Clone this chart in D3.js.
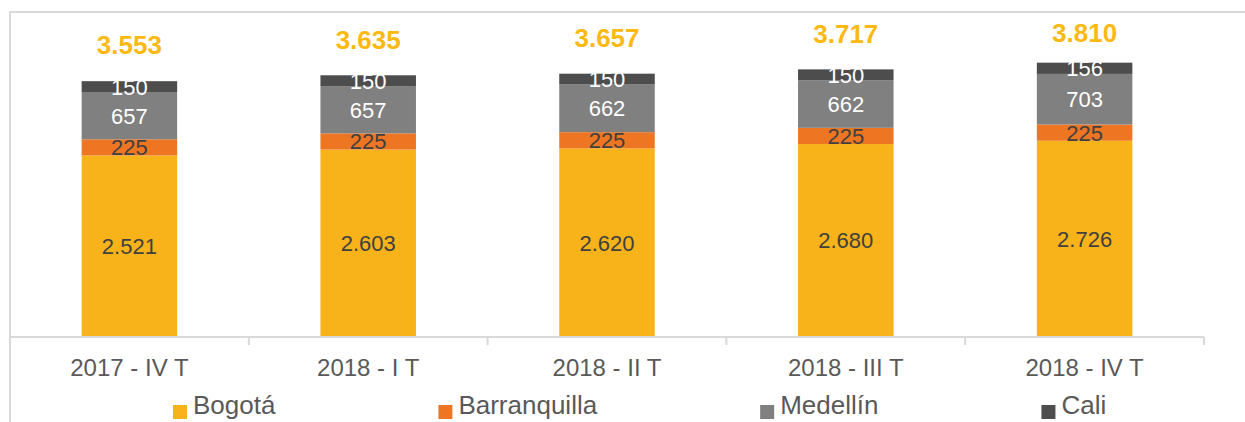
<!DOCTYPE html>
<html>
<head>
<meta charset="utf-8">
<script src="https://cdn.jsdelivr.net/npm/d3@7"></script>
<style>
  body { margin: 0; background: #fff; }
  svg { display: block; font-family: "Liberation Sans", Arial, sans-serif; }
</style>
</head>
<body>
<svg id="chart" width="1245" height="422"></svg>
<script>
const periods = ['2017 - IV T', '2018 - I T', '2018 - II T', '2018 - III T', '2018 - IV T'];
const cities = ['Bogotá', 'Barranquilla', 'Medellín', 'Cali'];
const bogota = [2521, 2603, 2620, 2680, 2726];
const barranquilla = [225, 225, 225, 225, 225];
const medellin = [657, 657, 662, 662, 703];
const cali = [150, 150, 150, 150, 156];
const totals = [3553, 3635, 3657, 3717, 3810];

const colors = ['#f8b31a', '#ee7623', '#808080', '#4d4d4d'];
const labelColors = ['#404040', '#404040', '#ffffff', '#ffffff'];

const chartSize = { width: 1245, height: 422 };
const plot = { left: 10, right: 1204, top: 13, bottom: 337 };

const rows = periods.map((p, i) => ({
  period: p,
  'Bogotá': bogota[i],
  'Barranquilla': barranquilla[i],
  'Medellín': medellin[i],
  'Cali': cali[i],
  total: totals[i]
}));

const fmt = d => d3.format(',')(d).replace(/,/g, '.');

const svg = d3.select('#chart')
  .attr('width', chartSize.width)
  .attr('height', chartSize.height);

// chart frame (left and top edges visible)
svg.append('path')
  .attr('d', `M10,${chartSize.height} V12 H${chartSize.width}`)
  .attr('fill', 'none')
  .attr('stroke', '#d9d9d9')
  .attr('stroke-width', 2);

const x = d3.scaleBand()
  .domain(periods)
  .range([plot.left, plot.right])
  .paddingInner(0.6)
  .paddingOuter(0.3);

const y = d3.scaleLinear()
  .domain([0, 4500])
  .range([plot.bottom, plot.top]);

const stack = d3.stack().keys(cities);
const series = stack(rows);

const layers = svg.selectAll('g.layer')
  .data(series)
  .join('g')
  .attr('class', 'layer')
  .attr('fill', (d, i) => colors[i]);

layers.selectAll('rect')
  .data(d => d)
  .join('rect')
  .attr('x', d => x(d.data.period))
  .attr('y', d => y(d[1]))
  .attr('width', x.bandwidth())
  .attr('height', d => y(d[0]) - y(d[1]));

// segment labels
series.forEach((s, i) => {
  svg.append('g')
    .selectAll('text')
    .data(s)
    .join('text')
    .attr('x', d => x(d.data.period) + x.bandwidth() / 2)
    .attr('y', d => (y(d[0]) + y(d[1])) / 2)
    .attr('dy', '0.36em')
    .attr('text-anchor', 'middle')
    .attr('font-size', 22)
    .attr('fill', labelColors[i])
    .text(d => fmt(d[1] - d[0]));
});

// totals above bars
svg.append('g')
  .selectAll('text')
  .data(rows)
  .join('text')
  .attr('x', d => x(d.period) + x.bandwidth() / 2)
  .attr('y', d => Math.max(y(d.total) - 26.7, 41.7))
  .attr('text-anchor', 'middle')
  .attr('font-size', 26)
  .attr('font-weight', 'bold')
  .attr('fill', '#fdb913')
  .text(d => fmt(d.total));

// x axis
const xAxis = d3.axisBottom(x).tickSize(0).tickPadding(0);
const gx = svg.append('g')
  .attr('transform', `translate(0,${plot.bottom})`)
  .call(xAxis);
gx.select('.domain')
  .attr('stroke', '#d9d9d9')
  .attr('stroke-width', 2)
  .attr('d', `M${plot.left},0H${plot.right}`);
gx.selectAll('.tick text')
  .attr('y', 39)
  .attr('dy', 0)
  .attr('font-size', 24)
  .attr('font-family', '"Liberation Sans", Arial, sans-serif')
  .attr('fill', '#595959');

// category separators
const step = x.step();
const bounds = d3.range(periods.length + 1).map(i => plot.left + i * step);
gx.selectAll('line.sep')
  .data(bounds.slice(1))
  .join('line')
  .attr('class', 'sep')
  .attr('x1', d => d)
  .attr('x2', d => d)
  .attr('y1', 0)
  .attr('y2', 8)
  .attr('stroke', '#d9d9d9')
  .attr('stroke-width', 2);

// legend
const legend = svg.append('g').attr('class', 'legend');
let lx = 173;
cities.forEach((c, i) => {
  const item = legend.append('g').attr('transform', `translate(${lx},0)`);
  item.append('rect')
    .attr('x', 0)
    .attr('y', 405)
    .attr('width', 14)
    .attr('height', 14)
    .attr('fill', colors[i]);
  const t = item.append('text')
    .attr('x', 20)
    .attr('y', 414)
    .attr('font-size', 26)
    .attr('fill', '#595959')
    .text(c);
  lx += 20 + t.node().getComputedTextLength() + 163;
});
</script>
</body>
</html>
